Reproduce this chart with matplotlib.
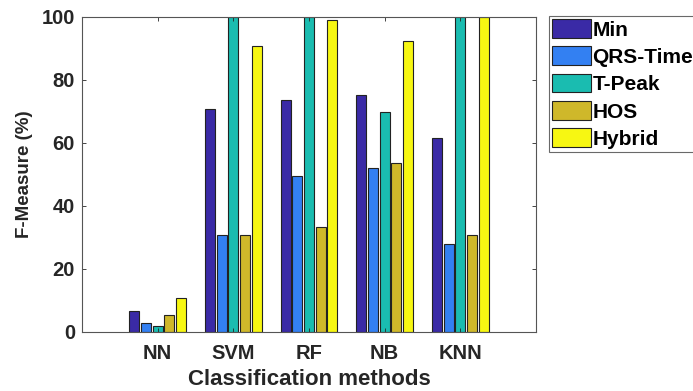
import matplotlib
matplotlib.use("Agg")
import matplotlib.pyplot as plt
import numpy as np

plt.rcParams['font.family'] = ['Liberation Sans', 'DejaVu Sans']

categories = ["NN", "SVM", "RF", "NB", "KNN"]
series_names = ["Min", "QRS-Time", "T-Peak", "HOS", "Hybrid"]
min_vals = [6.6, 70.7, 73.5, 75.2, 61.4]
qrs_vals = [2.7, 30.7, 49.3, 52.1, 27.8]
tpeak_vals = [1.9, 100.0, 100.0, 69.6, 100.0]
hos_vals = [5.3, 30.7, 33.1, 53.7, 30.7]
hybrid_vals = [10.6, 90.8, 98.8, 92.4, 100.0]
yticks = [0, 20, 40, 60, 80, 100]

colors = ["#3A2AA6", "#3380F2", "#1ABCB0", "#CFB82A", "#F7F712"]
all_vals = [min_vals, qrs_vals, tpeak_vals, hos_vals, hybrid_vals]

fig = plt.figure(figsize=(6.93, 3.91), dpi=100)
ax = fig.add_axes([82/693, 1-331.7/391, (536-82)/693, (331.7-16.7)/391])

x = np.arange(1, len(categories) + 1)
step = 0.154
width = 0.132
for i, (vals, c, name) in enumerate(zip(all_vals, colors, series_names)):
    ax.bar(x + (i - 2) * step, vals, width, color=c, edgecolor="#222222",
           linewidth=0.8, label=name)

ax.set_xlim(0, 6)
ax.set_ylim(0, 100)
ax.set_xticks(x)
ax.set_xticklabels(categories, fontsize=14.5, fontweight="bold", color="#262626")
ax.set_yticks(yticks)
ax.set_yticklabels([str(v) for v in yticks], fontsize=14.5, fontweight="bold", color="#262626")
ax.tick_params(direction="in", top=True, right=True, length=3, width=0.6, colors="#262626")
ax.tick_params(axis="x", pad=9)
ax.tick_params(axis="y", pad=5)
for s in ax.spines.values():
    s.set_color("#555555")
    s.set_linewidth(0.8)
ax.set_xlabel("Classification methods", fontsize=16, fontweight="bold", color="#262626", labelpad=4.5)
ax.set_ylabel("F-Measure (%)", fontsize=13.5, fontweight="bold", color="#262626", labelpad=6)

leg = fig.legend(loc="upper left", bbox_to_anchor=(549/693, 1-16/391),
                 prop={"weight": "bold", "size": 15},
                 frameon=True, fancybox=False, borderpad=0.15,
                 handlelength=1.86, handleheight=1.0, handletextpad=0.08,
                 labelspacing=0.33, borderaxespad=0)
leg.get_frame().set_edgecolor("#444444")
leg.get_frame().set_linewidth(0.8)

fig.savefig("out.png", dpi=100)
